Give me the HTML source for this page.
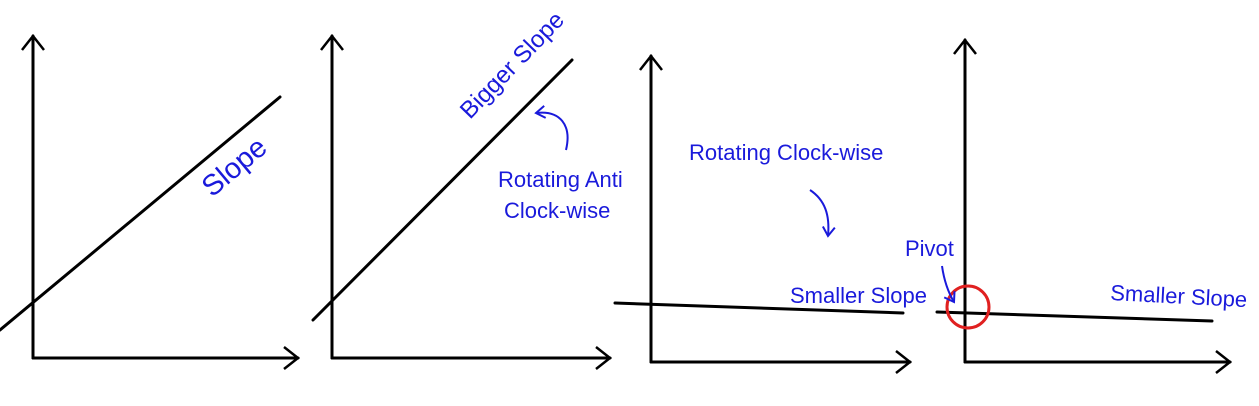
<!DOCTYPE html>
<html><head><meta charset="utf-8"><style>
html,body{margin:0;padding:0;background:#fff;}
svg{display:block;}
text{font-family:"Liberation Sans",sans-serif;fill:#1a1adb;font-size:22px;}
</style></head><body>
<svg width="1259" height="406" viewBox="0 0 1259 406">
<defs>
<marker id="ah" markerWidth="20" markerHeight="24" refX="16" refY="12" orient="auto" markerUnits="userSpaceOnUse"><path d="M2,1 L16,12 L2,23" fill="none" stroke="#000" stroke-width="2.5"/></marker>
<marker id="bh" markerWidth="14" markerHeight="14" refX="10" refY="7" orient="auto" markerUnits="userSpaceOnUse"><path d="M1,1 L10,7 L1,13" fill="none" stroke="#1a1adb" stroke-width="2"/></marker>
</defs>
<g stroke="#000" stroke-width="3" fill="none" stroke-linecap="round">
<g>
<line x1="33" y1="358" x2="33" y2="36" marker-end="url(#ah)"/>
<line x1="33" y1="358" x2="298" y2="358" marker-end="url(#ah)"/>
</g>
<line x1="0" y1="330" x2="280" y2="97"/>
<g>
<line x1="332" y1="358" x2="332" y2="36" marker-end="url(#ah)"/>
<line x1="332" y1="358" x2="610" y2="358" marker-end="url(#ah)"/>
</g>
<line x1="313" y1="320" x2="572" y2="60"/>
<g>
<line x1="651" y1="362" x2="651" y2="56" marker-end="url(#ah)"/>
<line x1="651" y1="362" x2="910" y2="362" marker-end="url(#ah)"/>
</g>
<line x1="615" y1="303" x2="903" y2="313"/>
<g>
<line x1="965" y1="362" x2="965" y2="40" marker-end="url(#ah)"/>
<line x1="965" y1="362" x2="1230" y2="362" marker-end="url(#ah)"/>
</g>
<line x1="937" y1="312" x2="1212" y2="321"/>
</g>
<circle cx="968" cy="307" r="21" fill="none" stroke="#e02020" stroke-width="3"/>
<g stroke="#1a1adb" stroke-width="2" fill="none">
<path d="M566,150 C572,125 560,110 536,113" marker-end="url(#bh)"/>
<path d="M810,190 C825,200 830,215 828,236" marker-end="url(#bh)"/>
<path d="M942,266 C944,280 948,292 954,302" marker-end="url(#bh)"/>
</g>
<text transform="translate(212,198) rotate(-40)" style="font-size:29px">Slope</text>
<text transform="translate(470,120) rotate(-46)" style="font-size:24px">Bigger Slope</text>
<text x="498" y="187">Rotating Anti</text>
<text x="504" y="218">Clock-wise</text>
<text x="689" y="160">Rotating Clock-wise</text>
<text x="790" y="303">Smaller Slope</text>
<text x="905" y="256">Pivot</text>
<text transform="translate(1110,300) rotate(3)">Smaller Slope</text>
</svg>
</body></html>
